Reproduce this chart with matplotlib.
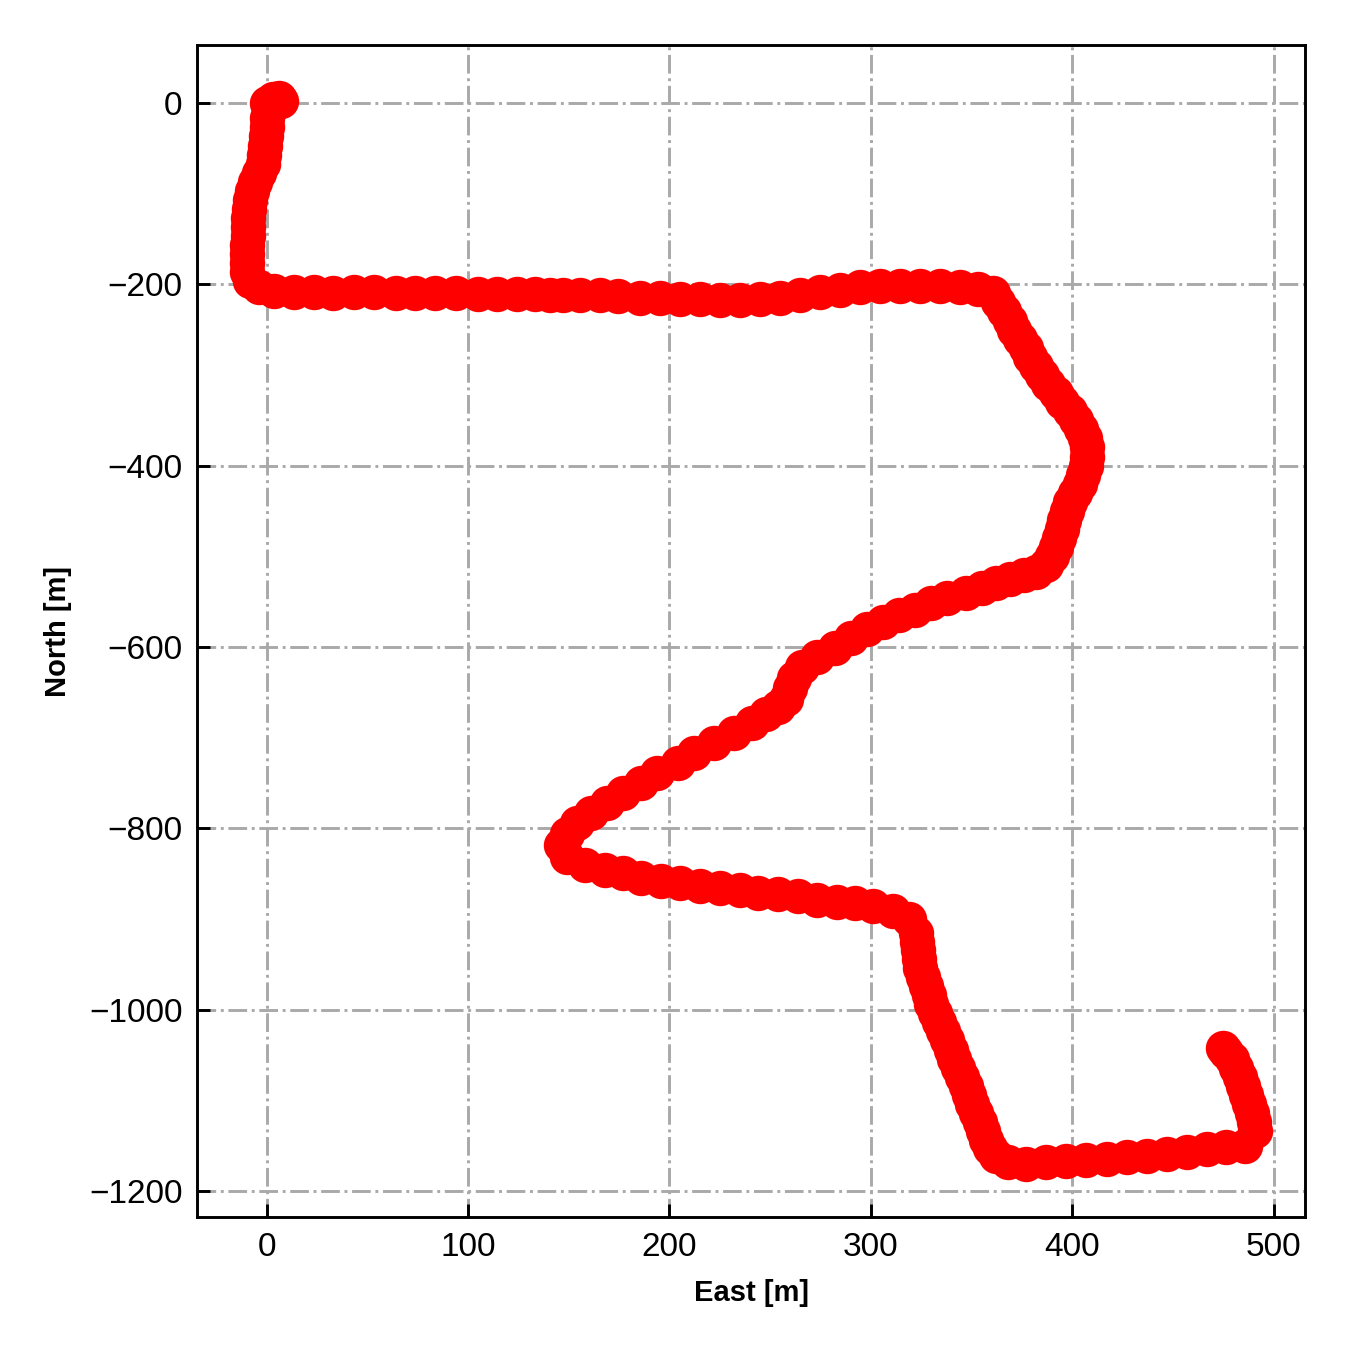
import matplotlib
matplotlib.use("Agg")
import matplotlib.pyplot as plt

plt.rcParams['font.family'] = ['Liberation Sans', 'DejaVu Sans']

east = [0, 3, 6, 7, 3, 1, 0, 0, -0.5, -1, -1.5, -2, -4, -6, -7, -8, -8.5, -9, -9, -9, -9.5, -9.5, -9.5, -9.5, -8, -4,
        3.5, 13.4, 23.3, 33.2, 43.2, 53.1, 64, 73.9, 83.8, 93.8, 104.7, 114.6, 124.5, 133.4, 140.9, 147.3, 155.8, 165.7, 174.6,
        185.5, 195.4, 205.4, 215.3, 225.2, 235.1, 245, 255, 264.9, 274.8, 284.7, 294.6, 304.6, 314.5, 324.4, 334.3, 344.2, 353.2, 360.6,
        363, 366, 369, 371, 374, 377, 379, 382, 385, 388, 392, 395, 399, 402, 404.5, 406.5, 407.5, 407.5,
        407, 405.5, 404, 401.5, 399, 397.5, 396, 395, 393.5, 392, 390, 387, 382,
        376, 369, 362, 355, 347, 338, 330, 322, 314, 306, 298, 290, 282, 273, 266, 262, 260, 258,
        254, 248, 241, 232, 222, 212, 204, 194, 186, 177, 169, 161, 154, 149, 146, 149, 158,
        168, 177, 186, 196, 205, 215, 225, 235, 244, 254, 264, 273, 283, 292, 301, 311, 319, 322.5,
        323, 323.5, 324, 324.5, 326, 327.5, 329, 330, 332, 334, 336, 338, 339.5, 341, 343, 345, 347, 348.5, 350, 352, 354, 355.5, 357, 359, 362,
        368, 377, 387, 397, 407, 417, 427, 437, 447, 457, 467, 476.5, 485.5, 490.5,
        490, 489, 487.5, 486, 484.5, 483, 481, 479, 476.5, 475]

north = [0, 4, 5, 2, -2, -8, -17, -27, -37, -47, -57, -67, -77, -87, -97, -107, -117, -127, -137, -147, -157, -167, -177, -187, -196, -203,
         -208, -209, -209, -210, -209, -209, -210, -210, -210, -210, -211, -211, -211, -211, -212, -212, -212, -212, -213,
         -215, -215, -216, -216, -217, -217, -216, -215, -212, -209, -206, -203, -202, -202, -202, -202, -203, -205, -210,
         -220, -230, -240, -250, -260, -270, -280, -290, -300, -310, -320, -330, -340, -350, -360, -370, -380, -390,
         -400, -410, -420, -430, -440, -450, -460, -470, -480, -490, -500, -510, -517,
         -521, -525, -530, -535, -541, -546, -552, -559, -565, -572, -580, -590, -601, -611, -622, -634, -645, -657,
         -666, -674, -684, -695, -706, -717, -728, -739, -750, -761, -772, -783, -794, -806, -819, -832, -841,
         -846, -849, -855, -858, -860, -864, -866, -868, -871, -873, -875, -879, -881, -882, -886, -891, -900, -915,
         -925, -934, -944, -954, -964, -974, -984, -994, -1004, -1014, -1024, -1034, -1044, -1054, -1064, -1074, -1084, -1094, -1104, -1114, -1124, -1134, -1144, -1153, -1161,
         -1168, -1170, -1168, -1167, -1166, -1165, -1163, -1161, -1159, -1157, -1154, -1152, -1150, -1134,
         -1124, -1114, -1104, -1094, -1084, -1074, -1064, -1055, -1047, -1042]

assert len(east) == len(north), (len(east), len(north))

fig = plt.figure(figsize=(4.5, 4.5), dpi=300)
ax = fig.add_axes([0.146, 0.0985, 0.8207, 0.8681])
ax.plot(east, north, 'o-', color='red', ms=7.5, lw=3.5, zorder=3)
ax.grid(True, color='darkgray', linestyle='-.', linewidth=0.7, zorder=0)
ax.set_axisbelow(True)
ax.tick_params(direction='in', labelsize=8, length=3.2, width=0.7)
for s in ax.spines.values():
    s.set_linewidth(0.7)
ax.set_xlabel('East [m]', fontsize=7, fontweight='bold')
ax.set_ylabel('North [m]', fontsize=7, fontweight='bold')
fig.savefig('out.png', dpi=300)
